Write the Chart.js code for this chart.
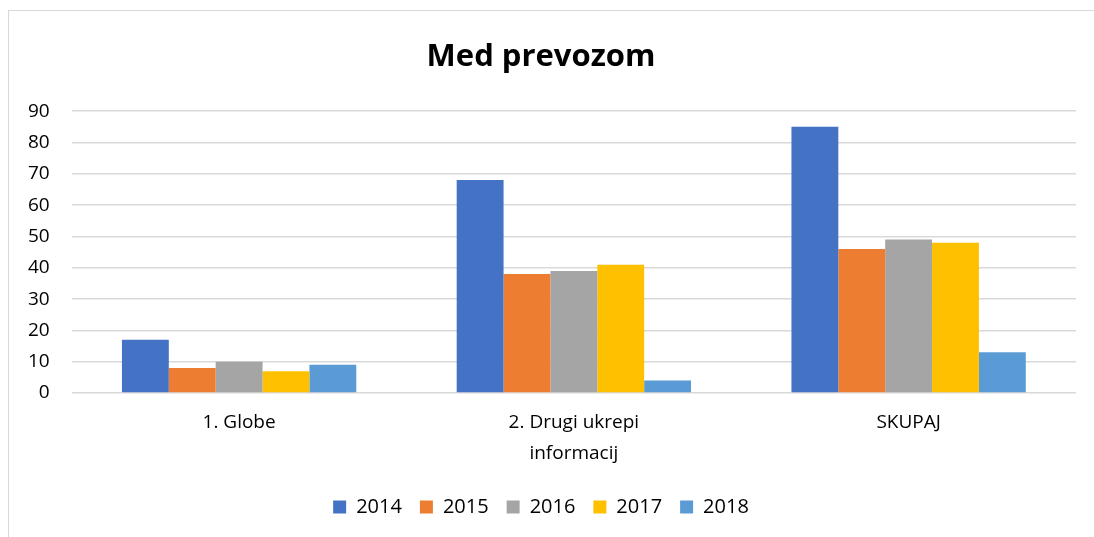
<!DOCTYPE html>
<html>
<head>
<meta charset="utf-8">
<script src="https://cdn.jsdelivr.net/npm/chart.js@4/dist/chart.umd.min.js"></script>
<style>
    html, body { margin: 0; padding: 0; background: #fff; }
    #frame {
        position: absolute; left: 8px; top: 10px; width: 1100px; height: 540px;
        border: 1px solid #d9d9d9; box-sizing: border-box;
    }
    #wrap { position: absolute; left: 0; top: 0; width: 1094px; height: 537px; }
</style>
</head>
<body>
<div id="frame"></div>
<div id="wrap"><canvas id="chart"></canvas></div>
<script>
var categories = ['1. Globe', ['2. Drugi ukrepi', 'informacij'], 'SKUPAJ'];
var years = ['2014', '2015', '2016', '2017', '2018'];
var v2014 = [17, 68, 85];
var v2015 = [8, 38, 46];
var v2016 = [10, 39, 49];
var v2017 = [7, 41, 48];
var v2018 = [9, 4, 13];
var colors = ['#4472C4', '#ED7D31', '#A5A5A5', '#FFC000', '#5B9BD5'];

var series = [v2014, v2015, v2016, v2017, v2018];
var datasets = [];
series.forEach(function (vals, i) {
    datasets.push({
        label: years[i],
        data: vals,
        backgroundColor: colors[i],
        borderWidth: 0,
        barPercentage: 1,
        categoryPercentage: 0.70
    });
});

var font = "'Open Sans', 'Liberation Sans', sans-serif";
new Chart(document.getElementById('chart').getContext('2d'), {
    type: 'bar',
    data: { labels: categories, datasets: datasets },
    options: {
        responsive: true,
        maintainAspectRatio: false,
        animation: false,
        layout: { padding: { left: 6, right: 18, top: 20, bottom: 10 } },
        plugins: {
            title: {
                display: true,
                text: 'Med prevozom',
                color: '#000',
                font: { family: font, size: 31, weight: 'bold' },
                padding: { top: 19, bottom: 35 }
            },
            legend: {
                position: 'bottom',
                labels: {
                    color: '#000',
                    font: { family: font, size: 20 },
                    boxWidth: 13,
                    boxHeight: 13,
                    padding: 18
                }
            },
            tooltip: { enabled: false }
        },
        scales: {
            x: {
                grid: { display: false },
                border: { display: false },
                ticks: { color: '#000', font: { family: font, size: 19, lineHeight: 1.63 }, padding: 6 },
                afterFit: function (scale) { scale.height += 4; }
            },
            y: {
                min: 0,
                max: 90,
                ticks: { stepSize: 10, color: '#000', font: { family: font, size: 19 }, padding: 22 },
                grid: { color: '#d9d9d9', lineWidth: 1.5, drawTicks: false },
                border: { display: false }
            }
        }
    }
});
</script>
</body>
</html>
